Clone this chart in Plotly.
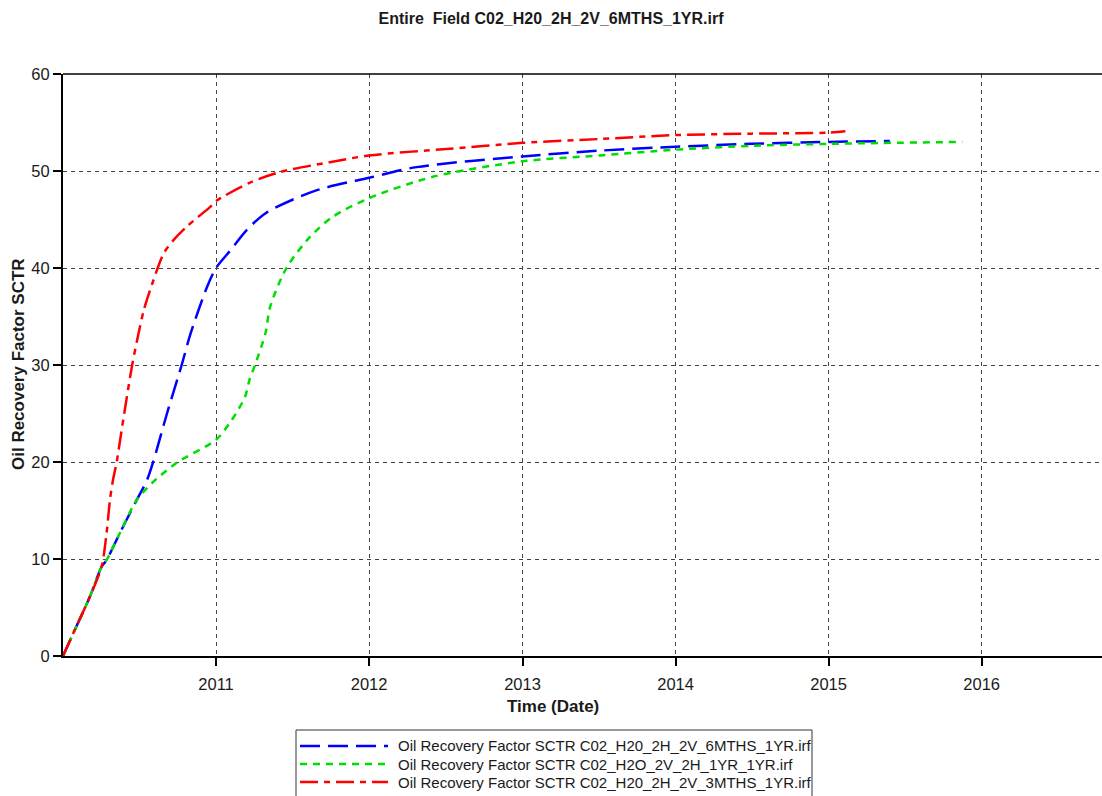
import plotly.graph_objects as go

# ---- data -------------------------------------------------------------
series_names = [
    "Oil Recovery Factor SCTR C02_H20_2H_2V_6MTHS_1YR.irf",
    "Oil Recovery Factor SCTR C02_H2O_2V_2H_1YR_1YR.irf",
    "Oil Recovery Factor SCTR C02_H20_2H_2V_3MTHS_1YR.irf",
]

dates_6mths = ["2010-01-01", "2010-01-25", "2010-03-06", "2010-04-03", "2010-04-15",
               "2010-05-17", "2010-06-26", "2010-07-20", "2010-08-04", "2010-09-06",
               "2010-10-11", "2010-11-01", "2010-12-11", "2011-01-01", "2011-02-04",
               "2011-03-15", "2011-05-01", "2011-08-28", "2012-01-01", "2012-04-23",
               "2013-01-01", "2013-07-05", "2014-01-01", "2014-07-01", "2015-01-01",
               "2015-05-27"]
rf_6mths = [0, 2.3, 6.1, 9.2, 9.9,
            12.7, 16.1, 18.1, 20.0, 25.0,
            30.0, 33.2, 38.1, 40.0, 41.8,
            43.9, 45.7, 48.0, 49.3, 50.4,
            51.5, 52.1, 52.5, 52.8, 53.0,
            53.1]

dates_1yr = ["2010-01-01", "2010-01-25", "2010-03-06", "2010-04-03", "2010-04-15",
             "2010-05-17", "2010-06-26", "2010-08-08", "2010-10-02", "2011-01-01",
             "2011-02-07", "2011-03-11", "2011-03-22", "2011-04-04", "2011-04-29",
             "2011-05-10", "2011-06-18", "2011-08-13", "2011-10-07", "2012-01-01",
             "2012-06-01", "2013-01-01", "2013-07-05", "2014-01-01", "2014-07-01",
             "2015-01-01", "2015-11-16"]
rf_1yr = [0, 2.3, 6.1, 9.2, 9.9,
          12.7, 16.1, 18.1, 20.0, 22.3,
          24.3, 26.7, 28.5, 30.0, 33.3,
          36.0, 40.0, 43.2, 45.3, 47.2,
          49.4, 51.0, 51.6, 52.2, 52.6,
          52.8, 53.0]

dates_3mths = ["2010-01-01", "2010-01-25", "2010-03-06", "2010-04-03", "2010-04-15",
               "2010-04-23", "2010-04-30", "2010-05-09", "2010-05-27", "2010-06-15",
               "2010-06-27", "2010-07-13", "2010-08-02", "2010-08-29", "2010-09-22",
               "2010-10-24", "2010-12-18", "2011-01-01", "2011-03-23", "2011-06-03",
               "2011-09-29", "2012-01-01", "2012-07-12", "2013-01-01", "2013-07-05",
               "2014-01-01", "2014-06-30", "2015-01-01", "2015-02-10"]
rf_3mths = [0, 2.3, 6.1, 9.2, 12.7,
            16.1, 18.1, 20.0, 25.0, 30.0,
            32.6, 35.7, 38.4, 41.5, 42.9,
            44.3, 46.3, 46.9, 48.8, 49.9,
            50.9, 51.6, 52.3, 52.9, 53.3,
            53.7, 53.85, 53.95, 54.1]

year_ticks = ["2011", "2012", "2013", "2014", "2015", "2016"]
y_ticks = [0, 10, 20, 30, 40, 50, 60]

# ---- styling ------------------------------------------------------------
colors = ["#0000ff", "#00dd00", "#ff0000"]
dashes = ["20px,8px", "7px,6px", "18px,6px,6px,6px"]
FONT = "Liberation Sans, Arial, sans-serif"
TXT = "#1a1a1a"

W, H = 1102, 796
L, R, T, B = 63, 0, 74, 140
pw, ph = W - L - R, H - T - B


def px_x(x):
    return (x - L) / pw


def px_y(y):
    return (H - B - y) / ph


fig = go.Figure()
for d, v, n, c, ds in zip([dates_6mths, dates_1yr, dates_3mths],
                          [rf_6mths, rf_1yr, rf_3mths],
                          series_names, colors, dashes):
    fig.add_trace(go.Scatter(x=d, y=v, name=n, mode="lines",
                             line=dict(color=c, width=2.5, dash=ds,
                                       shape="spline", smoothing=0.8),
                             showlegend=False))

fig.update_layout(
    width=W, height=H,
    margin=dict(l=L, r=R, t=T, b=B),
    paper_bgcolor="white", plot_bgcolor="white",
    font=dict(family=FONT, size=16, color=TXT),
    title=dict(text="<b>Entire\u00a0 Field C02_H20_2H_2V_6MTHS_1YR.irf</b>",
               x=0.5, xanchor="center", y=1 - 18 / H, yanchor="middle",
               font=dict(size=16, color=TXT)),
)

fig.update_xaxes(
    type="date", range=["2010-01-01", "2016-10-14"],
    tickvals=[f"{y}-01-01" for y in year_ticks], ticktext=year_ticks,
    showline=True, linecolor="black", linewidth=2,
    ticks="outside", ticklen=8, tickwidth=2, tickcolor="black",
    ticklabelstandoff=4,
    showgrid=True, gridcolor="#444444", gridwidth=1, griddash="4px,4px",
    tickfont=dict(size=16.5, color=TXT), zeroline=False,
)
fig.update_yaxes(
    range=[0, 60], tickvals=y_ticks,
    showline=True, linecolor="black", linewidth=2,
    ticks="outside", ticklen=8, tickwidth=2, tickcolor="black",
    showgrid=True, gridcolor="#444444", gridwidth=1, griddash="4px,4px",
    tickfont=dict(size=16.5, color=TXT), zeroline=False,
)

# top frame line
fig.add_shape(type="line", xref="paper", yref="paper", x0=0, x1=1, y0=1, y1=1,
              line=dict(color="black", width=1.5))

# axis titles
fig.add_annotation(text="<b>Time (Date)</b>", xref="paper", yref="paper",
                   x=px_x(553), y=px_y(706), showarrow=False,
                   xanchor="center", yanchor="middle", font=dict(size=17, color=TXT))
fig.add_annotation(text="<b>Oil Recovery Factor SCTR</b>", xref="paper", yref="paper",
                   x=px_x(18), y=px_y(364), showarrow=False, textangle=-90,
                   xanchor="center", yanchor="middle", font=dict(size=17, color=TXT))

# legend box with long line samples
fig.add_shape(type="rect", xref="paper", yref="paper",
              x0=px_x(296), x1=px_x(812), y0=px_y(730), y1=px_y(800),
              line=dict(color="#333333", width=1), fillcolor="white")
for i, (n, c, ds) in enumerate(zip(series_names, colors, dashes)):
    yy = 746 + 18 * i
    fig.add_shape(type="line", xref="paper", yref="paper",
                  x0=px_x(300), x1=px_x(388), y0=px_y(yy), y1=px_y(yy),
                  line=dict(color=c, width=2.5, dash=ds))
    fig.add_annotation(text=n, xref="paper", yref="paper",
                       x=px_x(396), y=px_y(yy), showarrow=False,
                       xanchor="left", yanchor="middle",
                       font=dict(size=15, color=TXT))

fig.write_html("out.html")
